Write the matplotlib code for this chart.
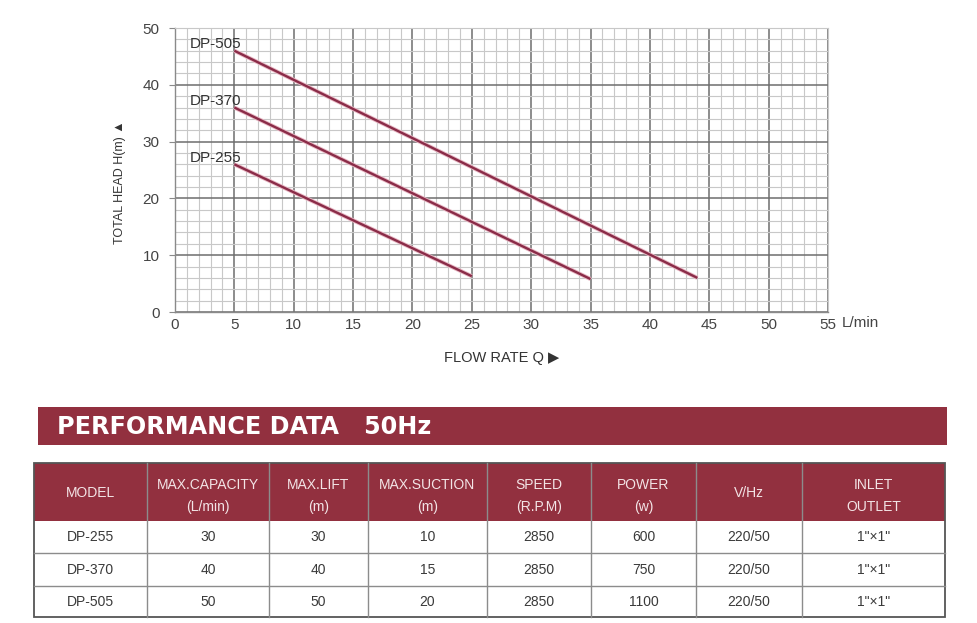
import matplotlib.pyplot as plt
from matplotlib.patches import Rectangle
import numpy as np

plt.rcParams['font.family'] = ['Liberation Sans', 'DejaVu Sans']

# curve data (flow L/min, head m)
models = ['DP-505', 'DP-370', 'DP-255']
flow = {'DP-505': [5, 44], 'DP-370': [5, 35], 'DP-255': [5, 25]}
head = {'DP-505': [46, 6], 'DP-370': [36, 5.8], 'DP-255': [26, 6.3]}
label_head = {'DP-505': 46.4, 'DP-370': 36.4, 'DP-255': 26.4}

x_ticks = [0, 5, 10, 15, 20, 25, 30, 35, 40, 45, 50, 55]
y_ticks = [0, 10, 20, 30, 40, 50]

# table data
header_top = ['MODEL', 'MAX.CAPACITY', 'MAX.LIFT', 'MAX.SUCTION', 'SPEED', 'POWER', 'V/Hz', 'INLET']
header_bot = ['', '(L/min)', '(m)', '(m)', '(R.P.M)', '(w)', '', 'OUTLET']
rows = [
    ['DP-255', '30', '30', '10', '2850', '600', '220/50', '1"\u00d71"'],
    ['DP-370', '40', '40', '15', '2850', '750', '220/50', '1"\u00d71"'],
    ['DP-505', '50', '50', '20', '2850', '1100', '220/50', '1"\u00d71"'],
]

red = '#92303f'
line_col = '#8a2c48'
txt = '#3a3a3a'

fig = plt.figure(figsize=(9.78, 6.23), dpi=100)
W, H = 978, 623

# ---- chart ----
ax = fig.add_axes([175 / W, 1 - 312 / H, (828 - 175) / W, (312 - 28) / H])
ax.set_xlim(0, 55)
ax.set_ylim(0, 50)
ax.set_xticks(x_ticks)
ax.set_yticks(y_ticks)
ax.set_xticks(np.arange(0, 56, 1), minor=True)
ax.set_yticks(np.arange(0, 51, 2), minor=True)
ax.grid(which='minor', color='#c8c8c8', lw=0.8)
ax.grid(which='major', color='#6e6e6e', lw=1.1)
ax.set_axisbelow(True)
for s in ['top', 'right']:
    ax.spines[s].set_color('#c8c8c8')
    ax.spines[s].set_linewidth(0.8)
for s in ['left', 'bottom']:
    ax.spines[s].set_color('#8a8a8a')
    ax.spines[s].set_linewidth(1.0)
ax.tick_params(which='minor', length=0)
ax.tick_params(axis='x', which='major', length=0, pad=4, labelsize=11, labelcolor='#444444')
ax.tick_params(axis='y', which='major', length=4, color='#8a8a8a', pad=7, labelsize=11, labelcolor='#444444')
ax.xaxis.get_gridlines()[0].set_visible(False)

for m in models:
    ax.plot(flow[m], head[m], color='#e8b8c4', lw=3.0, solid_capstyle='butt', zorder=3)
    ax.plot(flow[m], head[m], color=line_col, lw=1.7, solid_capstyle='butt', zorder=4)
    ax.text(1.25, label_head[m], m, fontsize=11, color='#333333', va='baseline', ha='left', zorder=5)

ax.text(56.2, -2.0, 'L/min', fontsize=11, color='#444444', va='center', ha='left', clip_on=False)
ax.set_xlabel('FLOW RATE Q \u25b6', fontsize=10.5, color='#333333', labelpad=14)
ax.set_ylabel('TOTAL HEAD H(m) \u25b2', fontsize=9, color='#333333')
ax.yaxis.set_label_coords(-0.075, 0.456)

# ---- performance table ----
tab = fig.add_axes([0, 0, 1, 1])
tab.set_xlim(0, W)
tab.set_ylim(H, 0)
tab.axis('off')

tab.add_patch(Rectangle((38, 407), 909, 38, facecolor=red, edgecolor='none'))
tab.text(57, 427, 'PERFORMANCE DATA   50Hz', color='white', fontsize=17.2,
         fontweight='bold', va='center', ha='left', family='DejaVu Sans')

col_x = [34, 147, 269, 368, 487, 591, 696, 802, 945]
row_y = [463, 521, 553, 586, 617]

tab.add_patch(Rectangle((col_x[0], row_y[0]), col_x[-1] - col_x[0], row_y[1] - row_y[0],
                        facecolor=red, edgecolor='none'))
for i in range(len(header_top)):
    cx = (col_x[i] + col_x[i + 1]) / 2
    if header_bot[i]:
        tab.text(cx, 485, header_top[i], color='#f3e4e6', fontsize=10, ha='center', va='center')
        tab.text(cx, 507, header_bot[i], color='#f3e4e6', fontsize=10, ha='center', va='center')
    else:
        tab.text(cx, 493, header_top[i], color='#f3e4e6', fontsize=10, ha='center', va='center')

for r, row in enumerate(rows):
    cy = (row_y[r + 1] + row_y[r + 2]) / 2
    for i, val in enumerate(row):
        cx = (col_x[i] + col_x[i + 1]) / 2
        tab.text(cx, cy, val, color=txt, fontsize=10, ha='center', va='center')

# grid lines of table
for yy in row_y[2:-1]:
    tab.plot([col_x[0], col_x[-1]], [yy, yy], color='#8c8c8c', lw=1.0)
for xx in col_x[1:-1]:
    tab.plot([xx, xx], [row_y[0], row_y[-1]], color='#8c8c8c', lw=1.0)
tab.add_patch(Rectangle((col_x[0], row_y[0]), col_x[-1] - col_x[0], row_y[-1] - row_y[0],
                        facecolor='none', edgecolor='#555555', lw=1.3))

fig.savefig('out.png', dpi=100)
